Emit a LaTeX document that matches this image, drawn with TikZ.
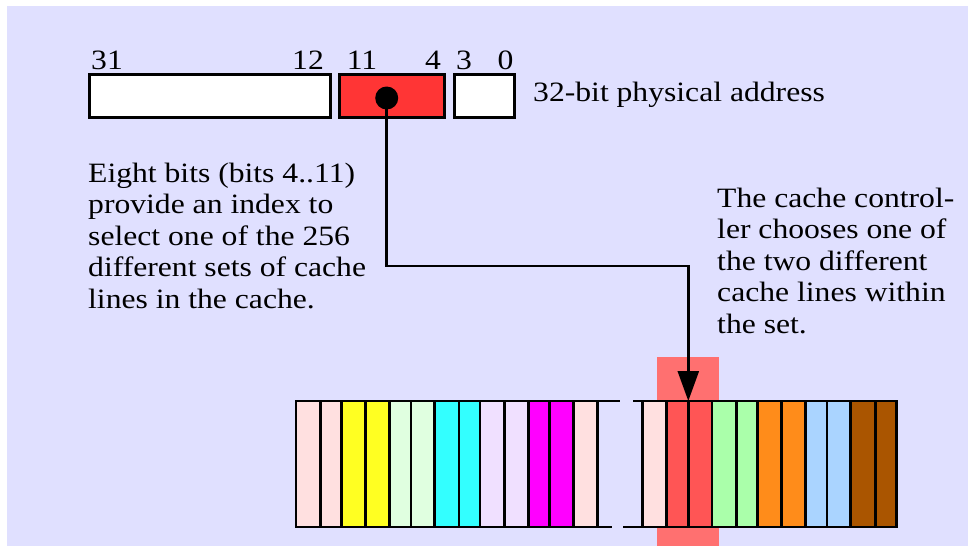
\documentclass[tikz,border=0pt]{standalone}
\usepackage{fontspec}
\setmainfont{Liberation Serif}[FakeStretch=1.13]
\usetikzlibrary{arrows.meta}
\definecolor{bgc}{HTML}{E0E0FF}
\definecolor{addrred}{HTML}{FF3535}
\definecolor{hil}{HTML}{FF7070}
\definecolor{cpink}{HTML}{FFE0E0}
\definecolor{cyel}{HTML}{FFFF22}
\definecolor{cgrn}{HTML}{E0FFE0}
\definecolor{ccya}{HTML}{33FFFF}
\definecolor{clav}{HTML}{F0E0FF}
\definecolor{cmag}{HTML}{FF00FF}
\definecolor{cred}{HTML}{FF5555}
\definecolor{cgrn2}{HTML}{AAFFAA}
\definecolor{cora}{HTML}{FF8C1A}
\definecolor{cblu}{HTML}{AAD4FF}
\definecolor{cbro}{HTML}{AA5500}
\begin{document}
\begin{tikzpicture}[x=1pt,y=-1pt,
  txt/.style={font=\fontsize{28}{31.5}\selectfont, inner sep=0pt, align=left},
  addrbox/.style={draw=black, line width=3pt, inner sep=0pt},
  bar/.style={draw=black, line width=2.8pt},
  rail/.style={draw=black, line width=2.8pt},
  conn/.style={draw=black, line width=2.6pt}]
\useasboundingbox (0,0) rectangle (968,546);
\fill[white] (0,0) rectangle (968,546);
\fill[bgc] (7,6) rectangle (968,546);
% highlight
\fill[hil] (657.3,356.7) rectangle (719,546);
% address boxes
\node[addrbox, fill=white, minimum width=241pt, minimum height=43pt, anchor=north west] (hi) at (88,73) {};
\node[addrbox, fill=addrred, minimum width=105pt, minimum height=43pt, anchor=north west] (mid) at (338,73) {};
\node[addrbox, fill=white, minimum width=60pt, minimum height=43pt, anchor=north west] (lo) at (453,73) {};
% bit labels
\node[txt, anchor=base] (b31) at (107,69) {31};
\node[txt, anchor=base] (b12) at (308,69) {12};
\node[txt, anchor=base] (b11) at (362,69) {11};
\node[txt, anchor=base] (b4) at (433,69) {4};
\node[txt, anchor=base] (b3) at (464,69) {3};
\node[txt, anchor=base] (b0) at (505.5,69) {0};
\node[txt, anchor=base west] (addrlbl) at (533,101.7) {32-bit physical address};
% texts (base anchor = last line's baseline)
\node[txt, anchor=base west] (lefttxt) at (88,308) {Eight bits (bits 4..11)\\provide an index to\\select one of the 256\\different sets of cache\\lines in the cache.};
\node[txt, anchor=base west] (righttxt) at (717,333) {The cache control-\\ler chooses one of\\the two different\\cache lines within\\the set.};
% cache bars left
\foreach \a/\b/\c in {296/320.3/cpink, 320.3/341.3/cpink, 341.3/365.7/cyel, 365.7/389.3/cyel, 389.3/411/cgrn, 411/434.7/cgrn, 434.7/459/ccya, 459/480/ccya, 480/504.3/clav, 504.3/528.3/clav, 528.3/549.3/cmag, 549.3/573.3/cmag, 573.3/597.3/cpink}
  \filldraw[bar, fill=\c] (\a,401) rectangle (\b,527);
\foreach \a/\b/\c in {642.7/666.7/cpink, 666.7/688.3/cred, 688.3/712/cred, 712/736.3/cgrn2, 736.3/757.3/cgrn2, 757.3/781.7/cora, 781.7/805.3/cora, 805.3/827/cblu, 827/850.7/cblu, 850.7/875.3/cbro, 875.3/896.7/cbro}
  \filldraw[bar, fill=\c] (\a,401) rectangle (\b,527);
% rails
\draw[rail] (296,401) -- (620,401);
\draw[rail] (633,401) -- (896.7,401);
\draw[rail] (296,527) -- (612,527);
\draw[rail] (623,527) -- (896.7,527);
% connector
\node[circle, fill=black, minimum size=23pt, inner sep=0pt] (dot) at (386.7,98) {};
\coordinate (turn) at (386.7,266);
\coordinate (target) at (688.3,401);
\draw[conn, -{Triangle[length=30pt,width=21pt]}] (dot.center) -- (turn) -| (target);
\end{tikzpicture}
\end{document}
